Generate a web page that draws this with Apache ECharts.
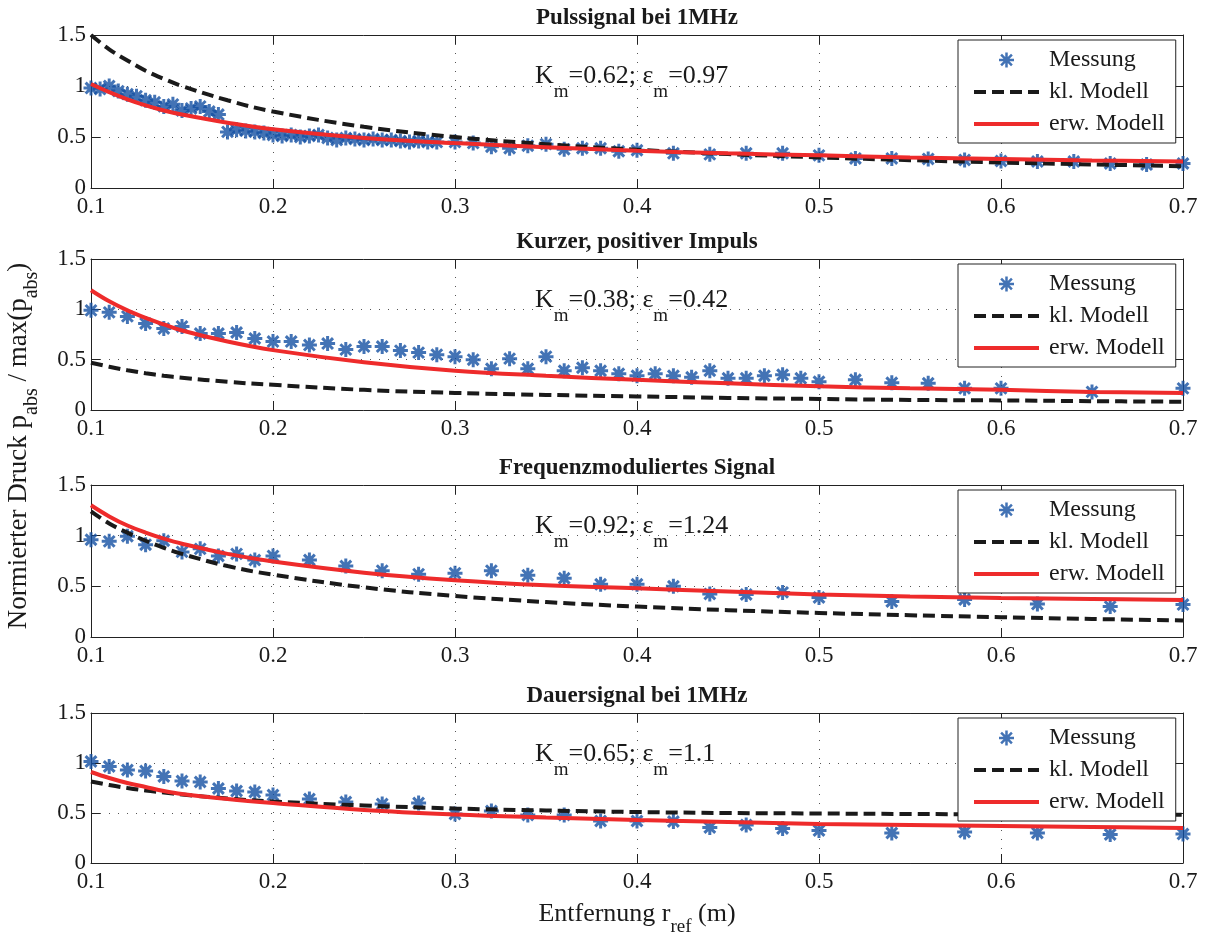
<!DOCTYPE html>
<html><head><meta charset="utf-8">
<script src="https://cdn.jsdelivr.net/npm/echarts@6/dist/echarts.min.js"></script>
<style>html,body{margin:0;padding:0;background:#fff}#c{width:1205px;height:940px}</style>
</head><body><div id="c"></div><script>
// ---------- data ----------
const titles = ['Pulssignal bei 1MHz', 'Kurzer, positiver Impuls', 'Frequenzmoduliertes Signal', 'Dauersignal bei 1MHz'];
const kmLabels = ['0.62', '0.38', '0.92', '0.65'];
const emLabels = ['0.97', '0.42', '1.24', '1.1'];
const xTickLabels = ['0.1', '0.2', '0.3', '0.4', '0.5', '0.6', '0.7'];
const yTickLabels = ['0', '0.5', '1', '1.5'];
const seriesNames = ['Messung', 'kl. Modell', 'erw. Modell'];

// Messung (measurement) points
const mx1 = [0.100,0.105,0.110,0.115,0.120,0.125,0.130,0.135,0.140,0.145,0.150,0.155,0.160,0.165,0.170,
  0.175,0.180,0.185,0.190,0.195,0.200,0.205,0.210,0.215,0.220,0.225,0.230,0.235,0.240,0.245,0.250,0.255,0.260,0.265,0.270,0.275,0.280,0.285,0.290,
  0.30,0.31,0.32,0.33,0.34,0.35,0.36,0.37,0.38,0.39,0.40,
  0.42,0.44,0.46,0.48,0.50,0.52,0.54,0.56,0.58,0.60,0.62,0.64,0.66,0.68,0.70];
const my1 = [0.98,0.97,1.00,0.95,0.92,0.90,0.86,0.84,0.80,0.82,0.76,0.78,0.80,0.75,0.72,
  0.55,0.57,0.56,0.55,0.54,0.52,0.51,0.52,0.50,0.51,0.52,0.49,0.47,0.49,0.48,0.47,0.48,0.47,0.47,0.46,0.45,0.46,0.45,0.45,
  0.45,0.44,0.405,0.39,0.415,0.43,0.38,0.39,0.39,0.36,0.37,
  0.34,0.33,0.34,0.34,0.32,0.29,0.29,0.285,0.275,0.265,0.26,0.26,0.24,0.23,0.24];

const mx2 = [0.10,0.11,0.12,0.13,0.14,0.15,0.16,0.17,0.18,0.19,0.20,0.21,0.22,0.23,0.24,0.25,0.26,0.27,0.28,0.29,0.30,
  0.31,0.32,0.33,0.34,0.35,0.36,0.37,0.38,0.39,0.40,0.41,0.42,0.43,0.44,0.45,0.46,0.47,0.48,0.49,0.50,
  0.52,0.54,0.56,0.58,0.60,0.65,0.70];
const my2 = [0.99,0.97,0.93,0.86,0.81,0.83,0.76,0.76,0.77,0.71,0.68,0.68,0.645,0.66,0.60,0.63,0.63,0.59,0.57,0.55,0.53,
  0.50,0.41,0.51,0.41,0.53,0.39,0.42,0.39,0.36,0.34,0.36,0.34,0.325,0.39,0.315,0.315,0.34,0.35,0.315,0.28,
  0.30,0.27,0.265,0.215,0.215,0.18,0.215];

const mx3 = [0.10,0.11,0.12,0.13,0.14,0.15,0.16,0.17,0.18,0.19,0.20,
  0.22,0.24,0.26,0.28,0.30,0.32,0.34,0.36,0.38,0.40,0.42,0.44,0.46,0.48,0.50,
  0.54,0.58,0.62,0.66,0.70];
const my3 = [0.96,0.944,0.994,0.911,0.95,0.84,0.87,0.80,0.82,0.76,0.80,
  0.76,0.70,0.655,0.62,0.63,0.655,0.61,0.58,0.52,0.52,0.50,0.425,0.42,0.44,0.39,
  0.35,0.37,0.325,0.30,0.32];

const mx4 = [0.10,0.11,0.12,0.13,0.14,0.15,0.16,0.17,0.18,0.19,0.20,
  0.22,0.24,0.26,0.28,0.30,0.32,0.34,0.36,0.38,0.40,0.42,0.44,0.46,0.48,0.50,
  0.54,0.58,0.62,0.66,0.70];
const my4 = [1.015,0.965,0.93,0.92,0.865,0.82,0.81,0.745,0.72,0.71,0.68,
  0.64,0.61,0.59,0.60,0.49,0.52,0.48,0.48,0.42,0.42,0.415,0.355,0.38,0.345,0.325,
  0.30,0.31,0.30,0.285,0.29];

// model curves, sampled at modelX
const modelX = [0.10,0.11,0.12,0.13,0.14,0.15,0.175,0.20,0.25,0.30,0.35,0.40,0.45,0.50,0.55,0.60,0.65,0.70];
const kl1  = [1.50,1.36,1.25,1.15,1.07,1.00,0.86,0.75,0.60,0.50,0.43,0.375,0.333,0.30,0.273,0.25,0.231,0.214];
const erw1 = [1.02,0.94,0.87,0.81,0.76,0.72,0.64,0.575,0.49,0.44,0.40,0.365,0.34,0.32,0.30,0.285,0.27,0.26];
const kl2  = [0.47,0.43,0.395,0.365,0.34,0.32,0.28,0.25,0.20,0.17,0.15,0.135,0.12,0.11,0.10,0.095,0.088,0.082];
const erw2 = [1.19,1.08,0.99,0.915,0.85,0.79,0.68,0.595,0.475,0.39,0.34,0.30,0.265,0.235,0.215,0.20,0.18,0.168];
const kl3  = [1.24,1.12,1.03,0.95,0.88,0.82,0.70,0.615,0.49,0.405,0.345,0.30,0.265,0.237,0.215,0.195,0.178,0.163];
const erw3 = [1.30,1.19,1.10,1.03,0.97,0.92,0.82,0.745,0.635,0.56,0.51,0.48,0.45,0.42,0.40,0.385,0.375,0.365];
const kl4  = [0.815,0.78,0.75,0.725,0.705,0.685,0.645,0.615,0.575,0.545,0.525,0.51,0.50,0.495,0.49,0.487,0.485,0.483];
const erw4 = [0.91,0.85,0.80,0.76,0.72,0.69,0.64,0.60,0.53,0.485,0.455,0.43,0.41,0.39,0.38,0.37,0.36,0.35];

// ---------- build ----------
const FONT = 'Liberation Serif';
const TXT = '#1a1a1a';
const BLUE = '#1450a2';
const RED = '#ee2b2b';
const BLACK = '#1a1a1a';
const STAR = 'path://M0,-1L0,1M-1,0L1,0M-0.72,-0.72L0.72,0.72M-0.72,0.72L0.72,-0.72';

const gridTops = [35, 259, 485, 713];
const gridHeights = [153, 151, 152, 150];
const MX = [mx1, mx2, mx3, mx4], MY = [my1, my2, my3, my4];
const KL = [kl1, kl2, kl3, kl4], ERW = [erw1, erw2, erw3, erw4];
const zip = (a, b) => a.map((v, i) => [v, b[i]]);

const grid = [], xAxis = [], yAxis = [], series = [], legend = [], graphic = [];
const axisLineStyle = {color: '#222', width: 1};
const dotted = {color: '#555', width: 1, type: [1, 8]};
const hiddenSymbol = {opacity: 0, color: 'rgba(0,0,0,0)', borderWidth: 0};

for (let i = 0; i < 4; i++) {
  grid.push({left: 91, width: 1092, top: gridTops[i], height: gridHeights[i], containLabel: false});
  xAxis.push({
    gridIndex: i, type: 'value', min: 0.1, max: 0.7, interval: 0.1, position: 'bottom',
    axisLine: {show: true, onZero: false, lineStyle: axisLineStyle},
    axisTick: {show: true, inside: true, length: 9, lineStyle: axisLineStyle},
    axisLabel: {show: true, margin: 7, fontFamily: FONT, fontSize: 23, color: TXT,
      formatter: v => xTickLabels[Math.round(v * 10) - 1]},
    splitLine: {show: true, lineStyle: dotted}
  });
  xAxis.push({
    gridIndex: i, type: 'value', min: 0.1, max: 0.7, interval: 0.1, position: 'top',
    axisLine: {show: true, onZero: false, lineStyle: axisLineStyle},
    axisTick: {show: true, inside: true, length: 9, lineStyle: axisLineStyle},
    axisLabel: {show: false}, splitLine: {show: false}
  });
  yAxis.push({
    gridIndex: i, type: 'value', min: 0, max: 1.5, interval: 0.5, position: 'left',
    axisLine: {show: true, onZero: false, lineStyle: axisLineStyle},
    axisTick: {show: true, inside: true, length: 9, lineStyle: axisLineStyle},
    axisLabel: {show: true, margin: 5, fontFamily: FONT, fontSize: 23, color: TXT,
      formatter: v => yTickLabels[Math.round(v * 2)]},
    splitLine: {show: true, lineStyle: dotted}
  });
  yAxis.push({
    gridIndex: i, type: 'value', min: 0, max: 1.5, interval: 0.5, position: 'right',
    axisLine: {show: true, onZero: false, lineStyle: axisLineStyle},
    axisTick: {show: true, inside: true, length: 9, lineStyle: axisLineStyle},
    axisLabel: {show: false}, splitLine: {show: false}
  });
  series.push({
    type: 'scatter', name: seriesNames[0], xAxisIndex: 2 * i, yAxisIndex: 2 * i,
    data: zip(MX[i], MY[i]), symbol: STAR, symbolSize: 15, symbolKeepAspect: true,
    itemStyle: {color: BLUE, borderColor: BLUE, borderWidth: 3}, z: 2, silent: true
  });
  series.push({
    type: 'line', name: seriesNames[1], xAxisIndex: 2 * i, yAxisIndex: 2 * i,
    data: zip(modelX, KL[i]), symbol: 'none', showSymbol: false, smooth: 0.4,
    lineStyle: {color: BLACK, width: 4, type: [12, 6]}, itemStyle: {color: BLACK}, z: 3, silent: true
  });
  series.push({
    type: 'line', name: seriesNames[2], xAxisIndex: 2 * i, yAxisIndex: 2 * i,
    data: zip(modelX, ERW[i]), symbol: 'none', showSymbol: false, smooth: 0.4,
    lineStyle: {color: RED, width: 4}, itemStyle: {color: RED}, z: 4, silent: true
  });
  legend.push({
    orient: 'vertical', left: 958, top: gridTops[i] + 5,
    itemWidth: 65, itemHeight: 15, itemGap: 6, padding: [7, 11, 6, 14],
    backgroundColor: '#fff', borderColor: '#222', borderWidth: 1, borderRadius: 0,
    textStyle: {fontFamily: FONT, fontSize: 24, lineHeight: 26, color: TXT, padding: [0, 0, 0, 5]},
    lineStyle: {width: 4},
    itemStyle: {borderWidth: 2.5},
    data: [
      {name: seriesNames[0]},
      {name: seriesNames[1], itemStyle: hiddenSymbol},
      {name: seriesNames[2], itemStyle: hiddenSymbol}
    ],
    selectedMode: false, z: 10
  });
  // subplot title
  graphic.push({
    type: 'text', x: 637, y: gridTops[i] - 17, z: 20,
    style: {text: titles[i], fill: TXT, font: 'bold 23px "' + FONT + '"', align: 'center', verticalAlign: 'middle'}
  });
  // annotation K_m / eps_m
  graphic.push({
    type: 'text', x: 535, y: gridTops[i] + 41, z: 20,
    style: {
      text: '{n|K}{s|m}{n|=' + kmLabels[i] + '; ε}{s|m}{n|=' + emLabels[i] + '}',
      align: 'left', verticalAlign: 'middle',
      rich: {
        n: {fontFamily: FONT, fontSize: 26, lineHeight: 52, fill: TXT, color: TXT},
        s: {fontFamily: FONT, fontSize: 19, lineHeight: 19, verticalAlign: 'bottom', fill: TXT, color: TXT}
      }
    }
  });
}

// axis names
graphic.push({
  type: 'text', x: 637, y: 914, z: 20,
  style: {
    text: '{n|Entfernung r}{s|ref}{n| (m)}', align: 'center', verticalAlign: 'middle',
    rich: {
      n: {fontFamily: FONT, fontSize: 26, lineHeight: 46, fill: TXT, color: TXT},
      s: {fontFamily: FONT, fontSize: 19, lineHeight: 19, verticalAlign: 'bottom', fill: TXT, color: TXT}
    }
  }
});
graphic.push({
  type: 'text', x: 19, y: 446, rotation: Math.PI / 2, z: 20,
  style: {
    text: '{n|Normierter Druck p}{s|abs}{n| / max(p}{s|abs}{n|)}', align: 'center', verticalAlign: 'middle',
    rich: {
      n: {fontFamily: FONT, fontSize: 27, lineHeight: 46, fill: TXT, color: TXT},
      s: {fontFamily: FONT, fontSize: 20, lineHeight: 20, verticalAlign: 'bottom', fill: TXT, color: TXT}
    }
  }
});

const chart = echarts.init(document.getElementById('c'), null, {renderer: 'canvas'});
chart.setOption({
  animation: false,
  backgroundColor: '#fff',
  grid, xAxis, yAxis, series, legend, graphic
});
</script></body></html>
